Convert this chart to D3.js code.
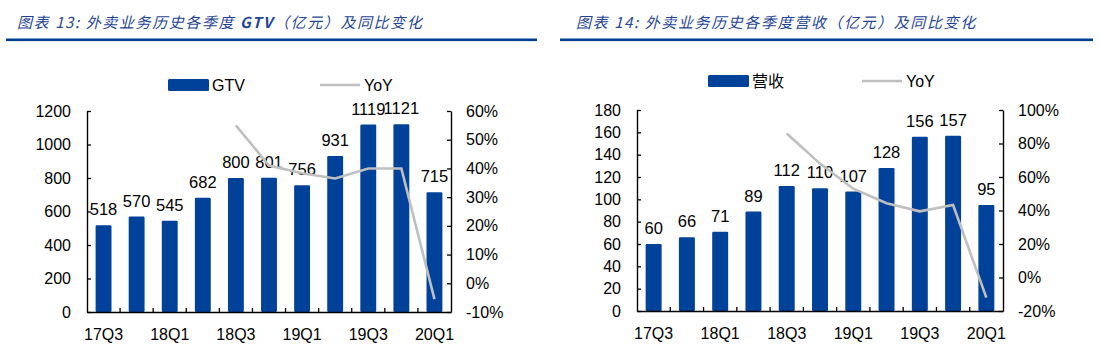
<!DOCTYPE html>
<html><head><meta charset="utf-8">
<script src="https://cdn.jsdelivr.net/npm/d3@7/dist/d3.min.js"></script>
<style>
body{margin:0;background:#fff;}
svg{display:block;}
.tk text{font-family:"Liberation Sans",Arial,sans-serif;font-size:16px;fill:#000;}
</style></head>
<body>
<svg id="c" width="1102" height="360"></svg>
<script>
const categories = ["17Q3","17Q4","18Q1","18Q2","18Q3","18Q4","19Q1","19Q2","19Q3","19Q4","20Q1"];
const xTickLabels = ["17Q3","18Q1","18Q3","19Q1","19Q3","20Q1"];
const gtvValues = [518,570,545,682,800,801,756,931,1119,1121,715];
const gtvYoY = [null,null,null,null,55,41,38.3,36.5,40,40,-5.5];
const revValues = [60,66,71,89,112,110,107,128,156,157,95];
const revYoY = [null,null,null,null,86,68,53,44.3,39.5,43.3,-12];
const gtvLeftTicks = [0,200,400,600,800,1000,1200];
const gtvRightTicks = [-10,0,10,20,30,40,50,60];
const revLeftTicks = [0,20,40,60,80,100,120,140,160,180];
const revRightTicks = [-20,0,20,40,60,80,100];

const BAR = "#00419a", LINE = "#bfbfbf", TITLE = "#1f4596", RULE = "#003f93";
const svg = d3.select("#c");
const fontLat = '"Liberation Sans",Arial,sans-serif';
const fontCJK = '"Noto Sans CJK SC","Liberation Sans",sans-serif';

function chart(o){
  const g = svg.append("g");
  // title
  const t = g.append("text").attr("x", o.titleX).attr("y", 28)
    .attr("font-size", 15).attr("font-style","italic").attr("fill", TITLE)
    .attr("font-family", fontCJK).attr("letter-spacing", "1.6px");
  o.title.forEach(p => t.append("tspan").text(p[0]).attr("font-weight", p[1] ? "bold" : "normal"));
  g.append("rect").attr("x", o.ruleX0).attr("y", 38.5).attr("width", o.ruleX1 - o.ruleX0).attr("height", 2.6).attr("fill", RULE);

  const x = d3.scaleBand().domain(categories).range([o.left, o.right]).paddingInner(0.52).paddingOuter(0.26);
  const yL = d3.scaleLinear().domain(o.lDomain).range([o.bottom, o.top]);
  const yR = d3.scaleLinear().domain(o.rDomain).range([o.bottom, o.top]);

  // bars
  g.selectAll("rect.bar").data(o.values).join("rect").attr("class","bar")
    .attr("x", (d,i)=>x(categories[i])).attr("width", x.bandwidth())
    .attr("y", d=>yL(d)).attr("height", d=>yL(0)-yL(d)).attr("fill", BAR).attr("rx",1.2);
  // data labels
  g.selectAll("text.lbl").data(o.values).join("text").attr("class","lbl")
    .attr("x", (d,i)=>x(categories[i]) + x.bandwidth()/2).attr("y", d=>yL(d)-10)
    .attr("text-anchor","middle").attr("font-family", fontLat).attr("font-size", 16.5).text(d=>d);

  // line
  const line = d3.line().defined(d=>d!=null).x((d,i)=>x(categories[i])+x.bandwidth()/2).y(d=>yR(d));
  g.append("path").datum(o.yoy).attr("d", line).attr("fill","none").attr("stroke",LINE).attr("stroke-width",2.6);

  // axes
  const aL = g.append("g").attr("class","tk").attr("transform",`translate(${o.left},0)`)
    .call(d3.axisLeft(yL).tickValues(o.lTicks).tickSize(-4).tickPadding(16).tickSizeOuter(0).tickFormat(d3.format("d")));
  const aR = g.append("g").attr("class","tk").attr("transform",`translate(${o.right},0)`)
    .call(d3.axisRight(yR).tickValues(o.rTicks).tickSize(-4).tickPadding(15).tickSizeOuter(0).tickFormat(d=>d+"%"));
  const aB = g.append("g").attr("class","tk").attr("transform",`translate(0,${o.bottom})`)
    .call(d3.axisBottom(x).tickValues(xTickLabels).tickSize(0).tickPadding(17).tickSizeOuter(0));
  [aL,aR,aB].forEach(a=>{a.selectAll("path.domain").attr("stroke","#000").attr("stroke-width",1.4);
    a.selectAll("line").attr("stroke","#000").attr("stroke-width",1.3);});
  // boundary ticks on the category axis
  const bounds = categories.slice(1).map(c => x(c) - x.step()*x.paddingInner()/2);
  g.selectAll("line.bt").data(bounds).join("line").attr("class","bt")
    .attr("x1",d=>d).attr("x2",d=>d).attr("y1",o.bottom).attr("y2",o.bottom-4)
    .attr("stroke","#000").attr("stroke-width",1.3);

  // legend
  g.append("rect").attr("x", o.lgBarX).attr("y", o.lgY-6).attr("width", 41).attr("height", 12).attr("fill", BAR).attr("rx",1.5);
  g.append("text").attr("x", o.lgBarX+44).attr("y", o.lgY+6).attr("font-family", o.lgFont).attr("font-size",16).text(o.barName);
  g.append("line").attr("x1", o.lgLineX).attr("x2", o.lgLineX+40).attr("y1", o.lgY).attr("y2", o.lgY).attr("stroke",LINE).attr("stroke-width",2.6);
  g.append("text").attr("x", o.lgLineX+44).attr("y", o.lgY+6).attr("font-family", fontLat).attr("font-size",16).text("YoY");
}

chart({title:[["图表 13:  外卖业务历史各季度 ",0],["GTV",1],["（亿元）及同比变化",0]], titleX:17, ruleX0:6, ruleX1:537,
  left:87, right:451, top:111, bottom:312, lDomain:[0,1200], rDomain:[-10,60],
  values:gtvValues, yoy:gtvYoY, lTicks:gtvLeftTicks, rTicks:gtvRightTicks,
  lgBarX:168, lgLineX:320, lgY:85, barName:"GTV", lgFont:fontLat});
chart({title:[["图表 14:  外卖业务历史各季度营收（亿元）及同比变化",0]], titleX:576, ruleX0:560, ruleX1:1093,
  left:637, right:1003, top:110, bottom:311, lDomain:[0,180], rDomain:[-20,100],
  values:revValues, yoy:revYoY, lTicks:revLeftTicks, rTicks:revRightTicks,
  lgBarX:708, lgLineX:862, lgY:81, barName:"营收", lgFont:fontCJK});
</script>
</body></html>
